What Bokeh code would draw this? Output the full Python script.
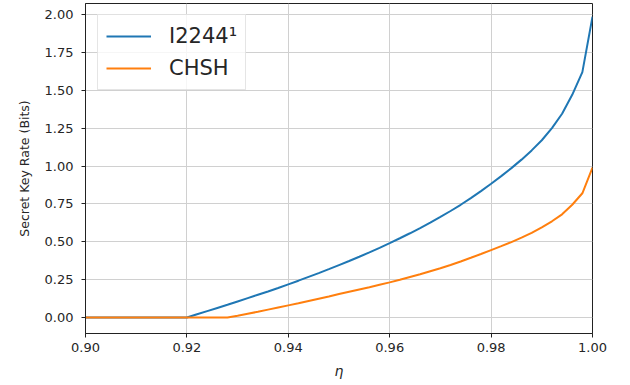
from bokeh.plotting import figure
from bokeh.models import Range1d, FixedTicker, PrintfTickFormatter, Legend, LegendItem
from bokeh.embed import file_html
from bokeh.resources import INLINE

# eta values (step 0.002)
eta = [0.900, 0.902, 0.904, 0.906, 0.908, 0.910, 0.912, 0.914, 0.916, 0.918,
       0.920, 0.922, 0.924, 0.926, 0.928, 0.930, 0.932, 0.934, 0.936, 0.938,
       0.940, 0.942, 0.944, 0.946, 0.948, 0.950, 0.952, 0.954, 0.956, 0.958,
       0.960, 0.962, 0.964, 0.966, 0.968, 0.970, 0.972, 0.974, 0.976, 0.978,
       0.980, 0.982, 0.984, 0.986, 0.988, 0.990, 0.992, 0.994, 0.996, 0.998,
       1.000]

i2244 = [0.0, 0.0, 0.0, 0.0, 0.0, 0.0, 0.0, 0.0, 0.0, 0.0,
         0.000, 0.021, 0.042, 0.063, 0.084, 0.106, 0.128, 0.150, 0.172, 0.195,
         0.219, 0.243, 0.268, 0.293, 0.319, 0.346, 0.373, 0.401, 0.430, 0.460,
         0.491, 0.523, 0.556, 0.590, 0.626, 0.664, 0.703, 0.744, 0.788, 0.834,
         0.883, 0.933, 0.986, 1.042, 1.103, 1.170, 1.250, 1.345, 1.470, 1.620,
         1.985]

chsh = [0.0, 0.0, 0.0, 0.0, 0.0, 0.0, 0.0, 0.0, 0.0, 0.0,
        0.0, 0.0, 0.0, 0.0, 0.000, 0.012, 0.025, 0.038, 0.052, 0.066,
        0.080, 0.094, 0.109, 0.124, 0.139, 0.155, 0.170, 0.185, 0.200, 0.216,
        0.232, 0.249, 0.267, 0.285, 0.305, 0.325, 0.347, 0.370, 0.394, 0.419,
        0.445, 0.471, 0.498, 0.527, 0.559, 0.595, 0.635, 0.681, 0.744, 0.820,
        0.990]

x_ticks = [0.90, 0.92, 0.94, 0.96, 0.98, 1.00]
y_ticks = [0.0, 0.25, 0.5, 0.75, 1.0, 1.25, 1.5, 1.75, 2.0]

FONT = "DejaVu Sans"

p = figure(width=630, height=384, output_backend="svg", toolbar_location=None,
           x_range=Range1d(0.9, 1.0), y_range=Range1d(-0.1056, 2.0726),
           min_border_left=85, min_border_right=38, min_border_top=3,
           min_border_bottom=51)

p.outline_line_color = "#222222"
p.outline_line_width = 1
p.background_fill_color = "white"
p.border_fill_color = "white"

for ax in (p.xaxis[0], p.yaxis[0]):
    ax.axis_line_color = "#222222"
    ax.major_tick_line_color = "#222222"
    ax.major_tick_in = 0
    ax.major_tick_out = 4
    ax.minor_tick_line_color = None
    ax.major_label_text_font = FONT
    ax.major_label_text_font_size = "13px"
    ax.major_label_text_color = "#262626"
    ax.axis_label_text_font = FONT
    ax.axis_label_text_font_size = "12.5px"
    ax.axis_label_text_color = "#262626"
    ax.axis_label_text_font_style = "normal"

p.xaxis.ticker = FixedTicker(ticks=x_ticks)
p.yaxis.ticker = FixedTicker(ticks=y_ticks)
p.xaxis.formatter = PrintfTickFormatter(format="%.2f")
p.yaxis.formatter = PrintfTickFormatter(format="%.2f")
p.xaxis.major_label_standoff = 5
p.yaxis.major_label_standoff = 8
p.xaxis.axis_label = "η"
p.xaxis.axis_label_text_font_style = "italic"
p.xaxis.axis_label_text_font_size = "14px"
p.xaxis.axis_label_standoff = 8
p.yaxis.axis_label = "Secret Key Rate (Bits)"
p.yaxis.axis_label_standoff = 10

p.xgrid.grid_line_color = "#d0d0d0"
p.ygrid.grid_line_color = "#d0d0d0"
p.xgrid.grid_line_width = 1
p.ygrid.grid_line_width = 1

r1 = p.line(eta, i2244, line_color="#1f77b4", line_width=2)
r2 = p.line(eta, chsh, line_color="#ff7f0e", line_width=2)

legend = Legend(items=[LegendItem(label="I2244¹", renderers=[r1]),
                       LegendItem(label="CHSH", renderers=[r2])],
                location=(12, 243))
legend.label_text_font = FONT
legend.label_text_font_size = "21px"
legend.label_text_color = "#262626"
legend.glyph_width = 45
legend.glyph_height = 26
legend.label_height = 26
legend.label_standoff = 18
legend.spacing = 6
legend.padding = 8
legend.margin = 0
legend.border_line_color = "#cccccc"
legend.border_line_width = 1
legend.background_fill_color = "white"
legend.background_fill_alpha = 0.8
p.add_layout(legend)

open("out.html", "w").write(file_html(p, INLINE))
